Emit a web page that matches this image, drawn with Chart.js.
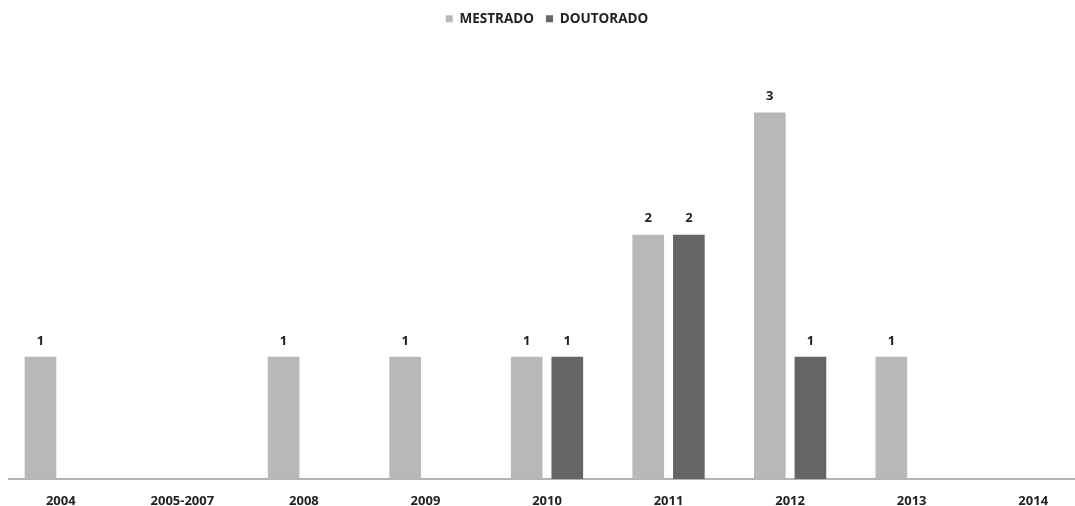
<!DOCTYPE html>
<html>
<head>
<meta charset="utf-8">
<script src="https://cdn.jsdelivr.net/npm/chart.js@4/dist/chart.umd.min.js"></script>
<style>
  html, body { margin: 0; padding: 0; background: #fff; overflow: hidden; }
  #wrap { position: relative; width: 1094px; height: 506px; }
</style>
</head>
<body>
<div id="wrap"><canvas id="c"></canvas></div>
<script>
const categories = ['2004', '2005-2007', '2008', '2009', '2010', '2011', '2012', '2013', '2014'];
const mestrado  = [1, null, 1, 1, 1, 2, 3, 1, null];
const doutorado = [null, null, null, null, 1, 2, 1, null, null];
const seriesNames = ['MESTRADO', 'DOUTORADO'];
const seriesColors = ['#b8b8b8', '#656565'];

const FONT = '"Open Sans", "DejaVu Sans", sans-serif';

// value labels above each bar
const valueLabels = {
  id: 'valueLabels',
  afterDatasetsDraw(chart) {
    const ctx = chart.ctx;
    ctx.save();
    ctx.font = 'bold 13px ' + FONT;
    ctx.fillStyle = '#222';
    ctx.textAlign = 'center';
    ctx.textBaseline = 'middle';
    chart.data.datasets.forEach((ds, i) => {
      chart.getDatasetMeta(i).data.forEach((bar, j) => {
        const v = ds.data[j];
        if (v == null) return;
        ctx.fillText(String(v), bar.x, bar.y - 16);
      });
    });
    ctx.restore();
  }
};

// baseline running across the plot
const baseline = {
  id: 'baseline',
  beforeDatasetsDraw(chart) {
    const ctx = chart.ctx;
    const y = chart.scales.y.getPixelForValue(0);
    ctx.save();
    ctx.strokeStyle = '#9a9a9a';
    ctx.lineWidth = 1.5;
    ctx.beginPath();
    ctx.moveTo(8, y);
    ctx.lineTo(chart.width, y);
    ctx.stroke();
    ctx.restore();
  }
};

new Chart(document.getElementById('c'), {
  type: 'bar',
  data: {
    labels: categories,
    datasets: [
      { label: seriesNames[0], data: mestrado, backgroundColor: seriesColors[0] },
      { label: seriesNames[1], data: doutorado, backgroundColor: seriesColors[1] }
    ]
  },
  options: {
    responsive: true,
    maintainAspectRatio: false,
    animation: false,
    datasets: { bar: { categoryPercentage: 0.668, barPercentage: 0.78 } },
    layout: { padding: { left: 0, right: 0, top: 0, bottom: 0 } },
    plugins: {
      legend: {
        position: 'top',
        labels: {
          boxWidth: 7, boxHeight: 7, padding: 12,
          color: '#222',
          font: { family: FONT, size: 13.5, weight: 'bold' }
        }
      },
      tooltip: { enabled: false }
    },
    scales: {
      x: {
        grid: { display: false, drawTicks: false },
        border: { display: false },
        afterFit(scale) { scale.height = 27; },
        ticks: {
          color: '#222', padding: 14,
          font: { family: FONT, size: 13, weight: 'bold' },
          maxRotation: 0, autoSkip: false
        }
      },
      y: {
        display: false,
        min: 0, max: 3.63
      }
    }
  },
  plugins: [valueLabels, baseline]
});
</script>
</body>
</html>
